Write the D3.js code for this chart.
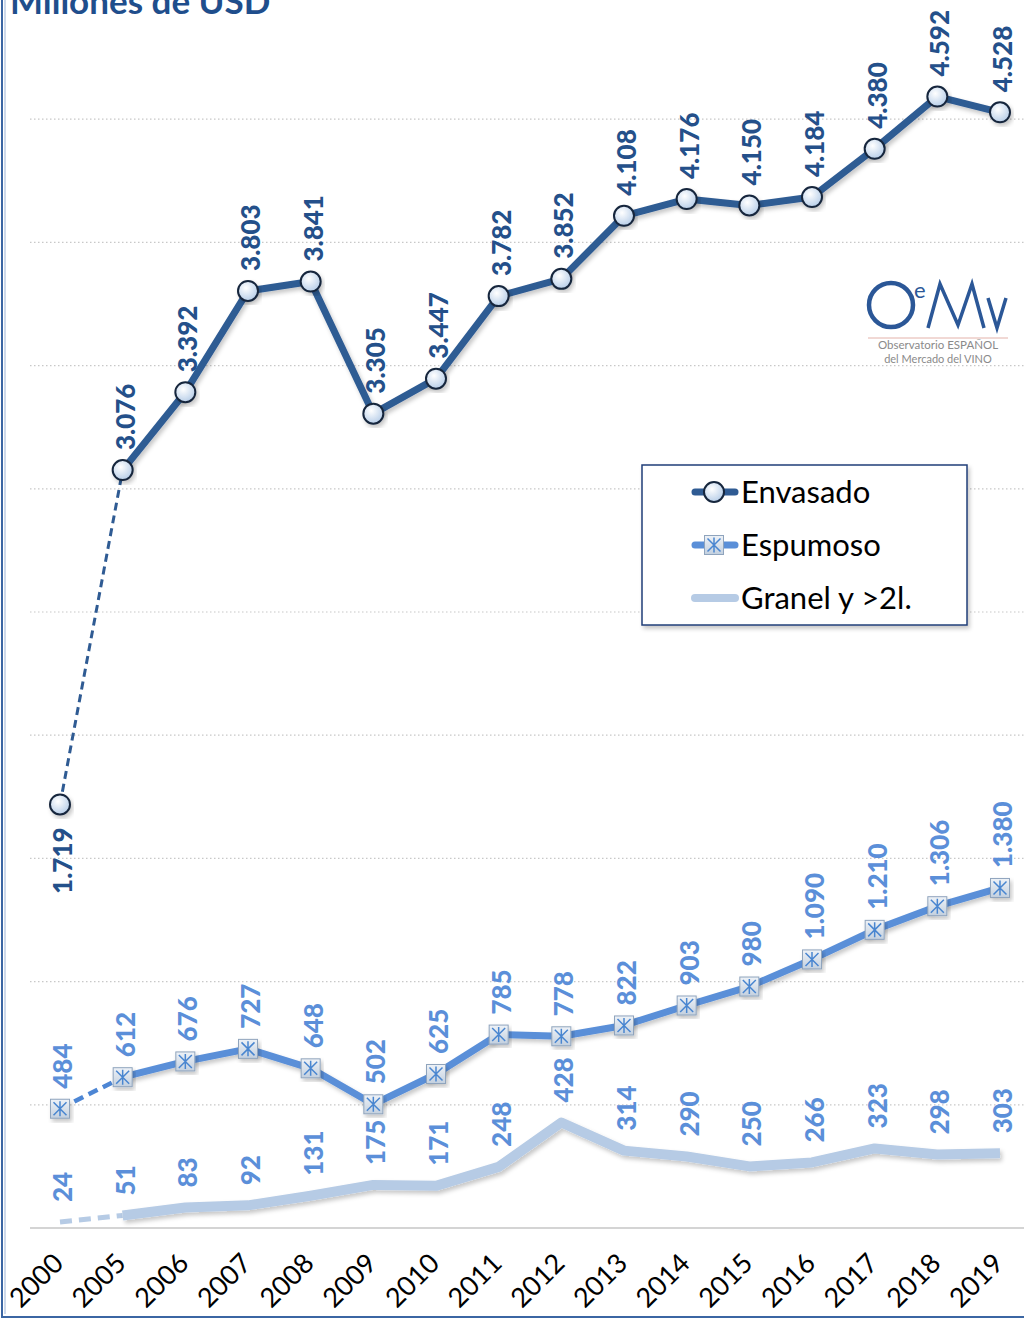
<!DOCTYPE html>
<html><head><meta charset="utf-8">
<script src="https://cdn.jsdelivr.net/npm/d3@7"></script>
<style>body{margin:0;background:#fff}svg{display:block}</style>
</head><body><svg id="c" width="1024" height="1320"></svg>
<script>
const years = ["2000","2005","2006","2007","2008","2009","2010","2011","2012","2013","2014","2015","2016","2017","2018","2019"];
const envasado = [1719,3076,3392,3803,3841,3305,3447,3782,3852,4108,4176,4150,4184,4380,4592,4528];
const espumoso = [484,612,676,727,648,502,625,785,778,822,903,980,1090,1210,1306,1380];
const granel = [24,51,83,92,131,175,171,248,428,314,290,250,266,323,298,303];
const gridValues = [500,1000,1500,2000,2500,3000,3500,4000,4500];
const seriesNames = ["Envasado","Espumoso","Granel y >2l."];

const svg = d3.select("#c");
const FONT = "Lato, 'Open Sans', sans-serif";
const fmt = d3.formatLocale({decimal:",",thousands:".",grouping:[3],currency:["",""]}).format(",d");

const x = d3.scalePoint().domain(years).range([60,1000]);
const y = d3.scaleLinear().domain([0,5000]).range([1228,1228-5000*0.2464]);

const defs = svg.append("defs");
const sh = defs.append("filter").attr("id","sh").attr("x","-20%").attr("y","-20%").attr("width","140%").attr("height","140%");
sh.append("feDropShadow").attr("dx",2).attr("dy",3).attr("stdDeviation",2).attr("flood-color","#000").attr("flood-opacity",0.22);
const rg = defs.append("radialGradient").attr("id","cg").attr("cx","40%").attr("cy","35%").attr("r","65%");
rg.append("stop").attr("offset","0%").attr("stop-color","#ffffff");
rg.append("stop").attr("offset","100%").attr("stop-color","#b9cfe9");
const sg = defs.append("linearGradient").attr("id","sg").attr("x1",0).attr("y1",0).attr("x2",0).attr("y2",1);
sg.append("stop").attr("offset","0%").attr("stop-color","#eef2f7");
sg.append("stop").attr("offset","100%").attr("stop-color","#c3d0df");

// frame
svg.append("rect").attr("x",2).attr("y",-10).attr("width",1040).attr("height",1327)
  .attr("fill","none").attr("stroke","#3b66a3").attr("stroke-width",2);
svg.append("line").attr("x1",5).attr("x2",5).attr("y1",0).attr("y2",1314).attr("stroke","#9db4d6").attr("stroke-width",1);

// title
svg.append("text").attr("x",10).attr("y",14).attr("font-family",FONT).attr("font-weight","bold")
  .attr("font-size",35).attr("fill","#1f4e8c").text("Millones de USD");

// gridlines
svg.append("g").selectAll("line").data(gridValues).join("line")
  .attr("x1",30).attr("x2",1024).attr("y1",d=>y(d)).attr("y2",d=>y(d))
  .attr("stroke","#c8c8c8").attr("stroke-width",1.2).attr("stroke-dasharray","1.5 2.5");
svg.append("line").attr("x1",30).attr("x2",1024).attr("y1",y(0)).attr("y2",y(0))
  .attr("stroke","#d4d4d4").attr("stroke-width",2);

// x axis labels
svg.append("g").selectAll("text").data(years).join("text")
  .attr("transform",d=>`translate(${x(d)+5},1265) rotate(-45)`)
  .attr("text-anchor","end").attr("font-family",FONT).attr("font-size",27).attr("fill","#000").text(d=>d);

const line = d3.line().x(d=>x(d.k)).y(d=>y(d.v));
function pts(arr){ return arr.map((v,i)=>({k:years[i],v})); }

const cfg = [
  {vals:granel, color:"#b6cbe5", w:10, dw:5, dash:"12 7", dcolor:"#b6cbe5"},
  {vals:espumoso, color:"#5a8fd8", w:7, dw:4.5, dash:"10 6", dcolor:"#4d86d4"},
  {vals:envasado, color:"#2f5b93", w:7, dw:3, dash:"8 5", dcolor:"#2f5b93"}
];

cfg.forEach(c=>{
  const p = pts(c.vals);
  svg.append("path").datum(p.slice(0,2)).attr("d",line).attr("fill","none")
    .attr("stroke",c.dcolor).attr("stroke-width",c.dw).attr("stroke-dasharray",c.dash);
  svg.append("path").datum(p.slice(1)).attr("d",line).attr("fill","none")
    .attr("stroke",c.color).attr("stroke-width",c.w).attr("stroke-linejoin","round").attr("filter","url(#sh)");
});

// markers
function squareMarker(g, cx, cy, s){
  const h=s/2;
  g.append("rect").attr("x",cx-h).attr("y",cy-h).attr("width",s).attr("height",s)
    .attr("fill","url(#sg)").attr("stroke","#8fa4bd").attr("stroke-width",1);
  g.append("path").attr("d",`M${cx},${cy-h+2}V${cy+h-2}M${cx-h+3},${cy-h+3}L${cx+h-3},${cy+h-3}M${cx+h-3},${cy-h+3}L${cx-h+3},${cy+h-3}`)
    .attr("stroke","#4a86d0").attr("stroke-width",1.5);
}
const mg = svg.append("g");
pts(espumoso).forEach(d=>squareMarker(mg.append("g").attr("filter","url(#sh)"), x(d.k), y(d.v), 19));
mg.selectAll("circle").data(pts(envasado)).join("circle")
  .attr("cx",d=>x(d.k)).attr("cy",d=>y(d.v)).attr("r",10)
  .attr("fill","url(#cg)").attr("stroke","#16263d").attr("stroke-width",2).attr("filter","url(#sh)");

// labels
function labels(arr, color, below){
  svg.append("g").selectAll("text").data(pts(arr)).join("text")
    .attr("transform",(d,i)=>{
      const b = below && below(i);
      return `translate(${x(d.k)+2},${y(d.v)+(b?23:-20)}) rotate(-90)`;
    })
    .attr("text-anchor",(d,i)=>below&&below(i)?"end":"start")
    .attr("dominant-baseline","central")
    .attr("font-family",FONT).attr("font-weight","900").attr("font-size",26)
    .attr("fill",color).text(d=>fmt(d.v));
}
labels(granel,"#5b8fd9");
labels(espumoso,"#5b8fd9");
labels(envasado,"#24508a",i=>i===0);

// legend
const lg = svg.append("g");
lg.append("rect").attr("x",642).attr("y",465).attr("width",325).attr("height",160)
  .attr("fill","#fff").attr("stroke","#203f78").attr("stroke-width",1.5).attr("filter","url(#sh)");
const legendY = [492,545,598];
const legendColors = ["#2f5b93","#5a8fd8","#b6cbe5"];
seriesNames.forEach((n,i)=>{
  lg.append("line").attr("x1",695).attr("x2",735).attr("y1",legendY[i]).attr("y2",legendY[i])
    .attr("stroke",legendColors[i]).attr("stroke-width",i===2?8:7).attr("stroke-linecap","round");
  lg.append("text").attr("x",741).attr("y",legendY[i]+11).attr("font-family",FONT)
    .attr("font-size",31).attr("fill","#000").text(n);
});
lg.append("circle").attr("cx",714).attr("cy",legendY[0]).attr("r",10).attr("fill","url(#cg)")
  .attr("stroke","#16263d").attr("stroke-width",2);
squareMarker(lg.append("g"),714,legendY[1],19);

// logo
const lo = svg.append("g").attr("font-family",FONT);
lo.append("circle").attr("cx",891).attr("cy",305).attr("r",22).attr("fill","none").attr("stroke","#2b5797").attr("stroke-width",4.5);
lo.append("text").attr("x",914).attr("y",298).attr("font-size",22).attr("fill","#2b5797").text("e");
lo.append("path").attr("d","M928,328 L940,284 L958,325 L972,284 L984,328 M988,298 L997,328 L1006,298")
  .attr("fill","none").attr("stroke","#2b5797").attr("stroke-width",3.5).attr("stroke-linejoin","miter");
lo.append("line").attr("x1",868).attr("x2",1008).attr("y1",338).attr("y2",338).attr("stroke","#e3b2aa").attr("stroke-width",1);
lo.append("text").attr("x",938).attr("y",349).attr("text-anchor","middle").attr("font-size",11.5).attr("fill","#8a8a8a").text("Observatorio ESPAÑOL");
lo.append("text").attr("x",938).attr("y",363).attr("text-anchor","middle").attr("font-size",11).attr("fill","#8a8a8a").text("del Mercado del VINO");
</script></body></html>
